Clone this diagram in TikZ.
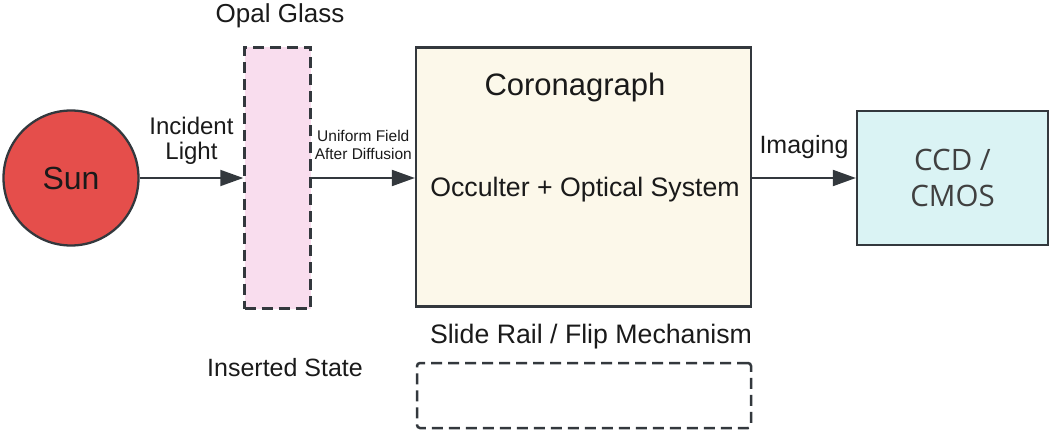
\documentclass[tikz,border=0pt]{standalone}
\usepackage{fontspec}
\setmainfont{Liberation Sans}
\newfontfamily\ccdfont{Open Sans}
\usetikzlibrary{arrows.meta}
\definecolor{linec}{HTML}{33383D}
\definecolor{sunred}{HTML}{E54E4B}
\definecolor{opalpink}{HTML}{F9DDEE}
\definecolor{cream}{HTML}{FCF8EA}
\definecolor{cyanl}{HTML}{DAF3F4}
\definecolor{txt}{HTML}{1A1A1A}
\tikzset{
  x=1pt, y=-1pt,
  box/.style={draw=linec, line width=2.3pt, rectangle, inner sep=0pt},
  dashbox/.style={box, line width=2.5pt, dash pattern=on 11pt off 6pt},
  flow/.style={draw=linec, line width=2pt, -{Triangle[length=23pt,width=16pt]}},
  lbl/.style={text=txt, inner sep=0pt, align=center},
}
\newcommand{\fs}[2]{\fontsize{#1}{#2}\selectfont}
\begin{document}
\begin{tikzpicture}
\useasboundingbox (0,0) rectangle (1060,441);
% blocks
\node[draw=linec, line width=2.3pt, circle, fill=sunred, minimum size=135pt, inner sep=0pt, text=txt, font=\fs{32}{36}] (sun) at (71,178) {Sun};
\node[dashbox, fill=opalpink, minimum width=66pt, minimum height=261pt] (opal) at (277.5,178) {};
\node[box, fill=cream, minimum width=335pt, minimum height=259pt] (corona) at (583.5,177) {};
\node[box, fill=cyanl, minimum width=191pt, minimum height=134pt] (ccd) at (952.5,178) {};
\node[lbl, text=black!75, font=\ccdfont\fs{29.5}{36}] (ccdtext) at (ccd.center) {CCD /\\CMOS};
\node[dashbox, rounded corners=3pt, minimum width=334pt, minimum height=65pt] (rail) at (584,395.5) {};
% texts
\node[lbl, font=\fs{26}{28}] (opallbl) at (280,16) {Opal Glass};
\node[lbl, font=\fs{31}{34}] (coronatitle) at (575,87) {Coronagraph};
\node[lbl, font=\fs{26.7}{30}] (optics) at (585,190) {Occulter + Optical System};
\node[lbl, font=\fs{26.7}{30}] (raillbl) at (591,337) {Slide Rail / Flip Mechanism};
\node[lbl, font=\fs{25}{28}] (inserted) at (285,368) {Inserted State};
% connectors
\draw[flow] (sun.east) -- (opal.west |- sun.east)
  node[lbl, midway, above=13pt, font=\fs{24}{25}] (incident) {Incident\\Light};
\draw[flow] (opal.east |- sun.east) -- (corona.west |- sun.east)
  node[lbl, midway, above=17pt, font=\fs{15.5}{18}] (uniform) {Uniform Field\\After Diffusion};
\draw[flow] (corona.east |- ccd.west) -- (ccd.west)
  node[lbl, midway, above=18pt, font=\fs{25}{28}] (imaging) {Imaging};
\end{tikzpicture}
\end{document}
